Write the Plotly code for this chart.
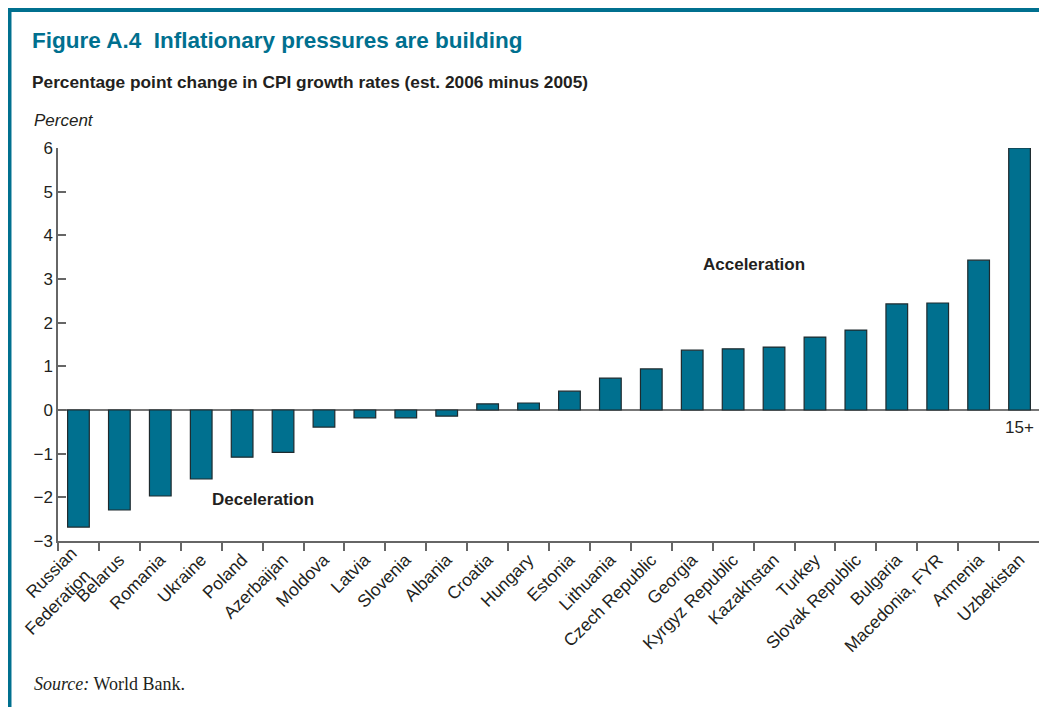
import plotly.graph_objects as go

countries = ["Russian Federation", "Belarus", "Romania", "Ukraine", "Poland", "Azerbaijan",
             "Moldova", "Latvia", "Slovenia", "Albania", "Croatia", "Hungary", "Estonia",
             "Lithuania", "Czech Republic", "Georgia", "Kyrgyz Republic", "Kazakhstan",
             "Turkey", "Slovak Republic", "Bulgaria", "Macedonia, FYR", "Armenia", "Uzbekistan"]
values = [-2.68, -2.29, -1.97, -1.58, -1.08, -0.97, -0.39, -0.18, -0.18, -0.14, 0.14, 0.16,
          0.43, 0.73, 0.94, 1.37, 1.40, 1.44, 1.67, 1.83, 2.43, 2.45, 3.43, 6.0]
y_ticks = [-3, -2, -1, 0, 1, 2, 3, 4, 5, 6]

TEAL = "#00708F"
FONT = "Liberation Sans, Arial, sans-serif"
TXT = "#231f20"

fig = go.Figure(go.Bar(
    x=countries, y=values, width=0.53,
    marker=dict(color=TEAL, line=dict(color="#1e2a2e", width=1.2)),
))

# the two-line first label is set as separate rotated text below, the rest as tick labels
tick_text = [""] + countries[1:]

# page has an 8px body margin: figure occupies page pixels 8..1047 x 8..707
fig.update_layout(
    width=1039, height=699,
    margin=dict(l=50, r=7, t=140, b=166),
    paper_bgcolor="white", plot_bgcolor="white",
    showlegend=False,
    font=dict(family=FONT, size=17, color=TXT),
)
fig.update_xaxes(
    type="category", tickangle=-45, tickson="boundaries", automargin=False,
    tickmode="array", tickvals=countries, ticktext=tick_text,
    ticks="outside", ticklen=8, tickcolor="#666", tickwidth=1.5,
    showline=True, linecolor="#666", linewidth=1.5,
    tickfont=dict(size=17.5, color=TXT), showgrid=False,
)
fig.update_yaxes(
    range=[-3, 6], tickvals=y_ticks, ticks="inside", ticklen=8, automargin=False,
    tickcolor="#666", tickwidth=1.5, showline=True, linecolor="#666", linewidth=1.5,
    showgrid=False, zeroline=True, zerolinecolor="#777", zerolinewidth=1.5,
    tickfont=dict(size=17, color=TXT),
)

first_words = countries[0].split(" ")
for word, (px, py) in zip(first_words, [(-0.0071, -0.082), (0.0, -0.156)]):
    fig.add_annotation(xref="paper", yref="paper", x=px, y=py, text=word, textangle=-45,
                       xanchor="center", yanchor="middle", showarrow=False,
                       font=dict(size=17.5, color=TXT))

ann = [
    dict(text="<b>Figure A.4  Inflationary pressures are building</b>", x=-0.0285, y=1.2748,
         font=dict(size=22.5, color=TEAL)),
    dict(text="<b>Percentage point change in CPI growth rates (est. 2006 minus 2005)</b>",
         x=-0.0285, y=1.168, font=dict(size=17.3, color=TXT)),
    dict(text="<i>Percent</i>", x=-0.0265, y=1.071, font=dict(size=17, color=TXT)),
    dict(text="<i>Source:</i> World Bank.", x=-0.0265, y=-0.364,
         font=dict(size=18, color=TXT, family="Liberation Serif, Times New Roman, serif")),
]
for a in ann:
    fig.add_annotation(xref="paper", yref="paper", xanchor="left", yanchor="middle",
                       showarrow=False, **a)

fig.add_annotation(x=16.5, y=3.34, text="<b>Acceleration</b>", showarrow=False,
                   font=dict(size=17, color=TXT))
fig.add_annotation(x=4.5, y=-2.04, text="<b>Deceleration</b>", showarrow=False,
                   font=dict(size=17, color=TXT))
fig.add_annotation(x=23, y=-0.39, text="15+", showarrow=False,
                   font=dict(size=17, color=TXT))

# frame lines (teal border at top and left)
fig.add_shape(type="line", xref="paper", yref="paper", x0=-0.0509, x1=1.02, y0=1.3511, y1=1.3511,
              line=dict(color=TEAL, width=4))
fig.add_shape(type="line", xref="paper", yref="paper", x0=-0.0494, x1=-0.0494, y0=1.356, y1=-0.43,
              line=dict(color=TEAL, width=4))

fig.write_html("out.html")
